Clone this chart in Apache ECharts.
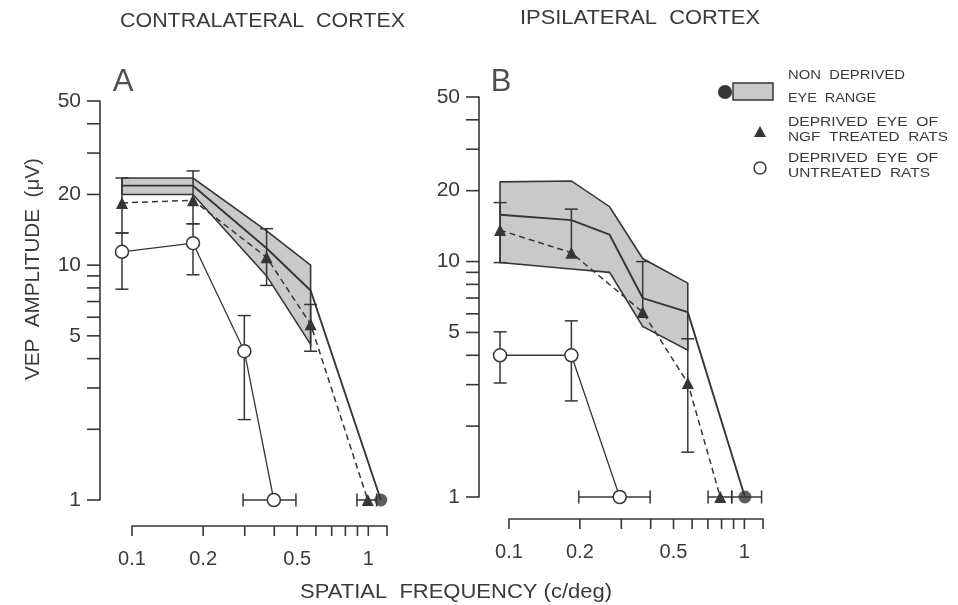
<!DOCTYPE html>
<html><head><meta charset="utf-8">
<script src="https://cdn.jsdelivr.net/npm/echarts@6/dist/echarts.min.js"></script>
<style>html,body{margin:0;padding:0;background:#fff}#c{width:958px;height:605px}</style>
</head><body><div id="c"></div>
<script>
// ---------------- data ----------------
const yTicks = [1,2,3,4,5,6,7,8,9,10,20,30,40,50];
const yTickLabels = [1,5,10,20,50];
const xTicks = [0.1,0.2,0.3,0.4,0.5,0.6,0.7,0.8,0.9,1,1.2];
const xTickLabels = [0.1,0.2,0.5,1];

// Panel A - contralateral cortex
const bandAx     = [0.1, 0.2, 0.41, 0.63];
const bandAupper = [23.5, 23.5, 14.0, 10.0];
const bandAlower = [20.0, 20.0, 9.0, 4.6];
const meanAx = [0.1, 0.2, 0.41, 0.63, 1.25];
const meanAy = [21.8, 21.8, 11.8, 7.8, 1];
const ngfAx  = [0.1, 0.2, 0.41, 0.63, 1.1];
const ngfAy  = [18.4, 18.9, 10.8, 5.6, 1];
const ngfAlo = [13.7, 15.0, 8.2, 4.3, 1];
const ngfAhi = [23.5, 25.2, 14.3, 6.8, 1];
const untAx  = [0.1, 0.2, 0.33, 0.44];
const untAy  = [11.4, 12.4, 4.3, 1];
const untAlo = [7.9, 9.1, 2.2, 1];
const untAhi = [13.7, 15.0, 6.1, 1];
const ngfAcutRange = [0.99, 1.2];
const untAcutRange = [0.326, 0.546];

// Panel B - ipsilateral cortex
const bandBx     = [0.1, 0.2, 0.29, 0.40, 0.62];
const bandBupper = [21.8, 22.0, 17.1, 10.3, 8.1];
const bandBlower = [9.9, 9.3, 9.0, 5.3, 4.2];
const meanBx = [0.1, 0.2, 0.29, 0.40, 0.62, 1.08];
const meanBy = [15.8, 15.0, 13.0, 7.0, 6.1, 1];
const ngfBx  = [0.1, 0.2, 0.40, 0.62, 0.85];
const ngfBy  = [13.6, 10.9, 6.1, 3.05, 1];
const ngfBlo = [9.9, 10.9, 6.1, 1.55, 1];
const ngfBhi = [17.8, 16.7, 10.0, 4.7, 1];
const untBx  = [0.1, 0.2, 0.32];
const untBy  = [4.0, 4.0, 1];
const untBlo = [3.05, 2.56, 1];
const untBhi = [5.03, 5.6, 1];
const ngfBcutRange  = [0.755, 0.95];
const meanBcutRange = [0.95, 1.27];
const untBcutRange  = [0.215, 0.43];

// ---------------- styling ----------------
const INK = '#363636';
const TXT = '#3a3a3a';
const BAND = '#c9c9c9';
const FONT = '"Liberation Sans", Arial, sans-serif';

const zip = (xs, ys) => xs.map((x, i) => [x, ys[i]]);
const zip4 = (xs, ys, lo, hi) => xs.map((x, i) => [x, ys[i], lo[i], hi[i]]);

function seg(x1, y1, x2, y2, w) {
  return {type: 'line', shape: {x1, y1, x2, y2}, style: {stroke: INK, lineWidth: w || 1.5}};
}
function vErrRender(params, api) {
  const x = api.value(0), y = api.value(1), lo = api.value(2), hi = api.value(3);
  const c = api.coord([x, y]);
  const ch = [], w = 6.5;
  if (hi > y) { const p = api.coord([x, hi]); ch.push(seg(c[0], c[1], p[0], p[1]), seg(p[0]-w, p[1], p[0]+w, p[1])); }
  if (lo < y) { const p = api.coord([x, lo]); ch.push(seg(c[0], c[1], p[0], p[1]), seg(p[0]-w, p[1], p[0]+w, p[1])); }
  return {type: 'group', children: ch};
}
function hErrRender(params, api) {
  const a = api.coord([api.value(0), api.value(2)]), b = api.coord([api.value(1), api.value(2)]);
  const w = 6.5;
  return {type: 'group', children: [seg(a[0], a[1], b[0], b[1]), seg(a[0], a[1]-w, a[0], a[1]+w), seg(b[0], b[1]-w, b[0], b[1]+w)]};
}
function bandRender(xs, up, low) {
  return function (params, api) {
    const pts = xs.map((x, i) => api.coord([x, up[i]]));
    for (let i = xs.length - 1; i >= 0; i--) pts.push(api.coord([xs[i], low[i]]));
    return {type: 'polygon', shape: {points: pts}, style: {fill: BAND, stroke: INK, lineWidth: 1.6}};
  };
}
function yTickRender(params, api) {
  const v = api.value(1);
  const p = api.coord([api.value(0), v]);
  const x0 = params.coordSys.x;
  const ch = [seg(x0 - 13, p[1], x0, p[1], 1.6)];
  if (yTickLabels.includes(v)) {
    ch.push({type: 'text', x: x0 - 19, y: p[1], style: {text: String(v), font: '21px ' + FONT, fill: TXT,
      textAlign: 'right', align: 'right', textVerticalAlign: 'middle', verticalAlign: 'middle'}});
  }
  return {type: 'group', children: ch};
}
function xTickRender(params, api) {
  const v = api.value(0);
  const p = api.coord([v, 0]);
  const y0 = params.coordSys.y + params.coordSys.height;
  const ch = [seg(p[0], y0, p[0], y0 + 10, 1.6)];
  if (xTickLabels.includes(v)) {
    ch.push({type: 'text', x: p[0], y: y0 + 33, style: {text: String(v), font: '20px ' + FONT, fill: TXT,
      textAlign: 'center', align: 'center', textVerticalAlign: 'middle', verticalAlign: 'middle'}});
  }
  return {type: 'group', children: ch};
}

function panelSeries(xi, yi, axI, d) {
  const base = {xAxisIndex: xi, yAxisIndex: yi, animation: false, silent: true};
  return [
    Object.assign({type: 'custom', renderItem: bandRender(d.bx, d.bu, d.bl), data: [[d.bx[0], d.bu[0]]], z: 1}, base),
    Object.assign({type: 'custom', renderItem: yTickRender, data: yTicks.map(v => [0.1, v]), z: 2}, base),
    Object.assign({type: 'custom', renderItem: vErrRender, data: zip4(d.nx, d.ny, d.nlo, d.nhi), z: 3}, base),
    Object.assign({type: 'custom', renderItem: vErrRender, data: zip4(d.ux, d.uy, d.ulo, d.uhi), z: 3}, base),
    Object.assign({type: 'custom', renderItem: hErrRender, data: d.hbars, z: 3}, base),
    Object.assign({type: 'line', data: zip(d.mx, d.my), symbol: 'none', lineStyle: {color: INK, width: 1.9}, z: 4}, base),
    Object.assign({type: 'line', data: zip(d.nx, d.ny), symbol: 'triangle', symbolSize: 12, showAllSymbol: true,
      itemStyle: {color: INK}, lineStyle: {color: INK, width: 1.5, type: [6, 4]}, z: 5}, base),
    Object.assign({type: 'line', data: zip(d.ux, d.uy), symbol: 'circle', symbolSize: 13, showAllSymbol: true,
      itemStyle: {color: '#fff', borderColor: INK, borderWidth: 1.5}, lineStyle: {color: INK, width: 1.3}, z: 5}, base),
    Object.assign({type: 'scatter', data: [[d.mx[d.mx.length-1], d.my[d.my.length-1]]], symbol: 'circle', symbolSize: 13,
      itemStyle: {color: INK}, z: 6}, base),
    {type: 'custom', xAxisIndex: axI, yAxisIndex: axI, renderItem: xTickRender, data: xTicks.map(v => [v, 0]), z: 2, silent: true, animation: false}
  ];
}

const A = {bx: bandAx, bu: bandAupper, bl: bandAlower, mx: meanAx, my: meanAy,
  nx: ngfAx, ny: ngfAy, nlo: ngfAlo, nhi: ngfAhi, ux: untAx, uy: untAy, ulo: untAlo, uhi: untAhi,
  hbars: [[ngfAcutRange[0], ngfAcutRange[1], ngfAy[ngfAy.length-1]], [untAcutRange[0], untAcutRange[1], untAy[untAy.length-1]]]};
const B = {bx: bandBx, bu: bandBupper, bl: bandBlower, mx: meanBx, my: meanBy,
  nx: ngfBx, ny: ngfBy, nlo: ngfBlo, nhi: ngfBhi, ux: untBx, uy: untBy, ulo: untBlo, uhi: untBhi,
  hbars: [[ngfBcutRange[0], ngfBcutRange[1], ngfBy[ngfBy.length-1]], [meanBcutRange[0], meanBcutRange[1], meanBy[meanBy.length-1]],
          [untBcutRange[0], untBcutRange[1], untBy[untBy.length-1]]]};

// stretched text helper (fits the lettering width of the original)
const mctx = document.createElement('canvas').getContext('2d');
function stext(str, x, y, size, w, align, rotation) {
  const font = size + 'px ' + FONT;
  mctx.font = font;
  const nat = mctx.measureText(str).width;
  const el = {type: 'text', x, y, scaleX: w ? w / nat : 1, z: 10,
    style: {text: str, font, fill: TXT, textAlign: align || 'left', align: align || 'left',
      textVerticalAlign: 'middle', verticalAlign: 'middle'}};
  if (rotation) el.rotation = rotation;
  return el;
}

const hiddenLog = (gi, min, max) => ({gridIndex: gi, type: 'log', min, max, show: false});
const visLogY = gi => ({gridIndex: gi, type: 'log', min: 1, max: 50, axisLine: {show: true, lineStyle: {color: INK, width: 1.6}},
  axisTick: {show: false}, axisLabel: {show: false}, splitLine: {show: false}});
const visLogX = gi => ({gridIndex: gi, type: 'log', min: 0.1, max: 1.2, axisLine: {show: true, onZero: false, lineStyle: {color: INK, width: 1.6}},
  axisTick: {show: false}, axisLabel: {show: false}, splitLine: {show: false}});
const dummyY = gi => ({gridIndex: gi, type: 'value', min: 0, max: 1, show: false});

const option = {
  animation: false,
  backgroundColor: '#fff',
  grid: [
    {left: 100, top: 101, width: 300, height: 399},
    {left: 132, top: 525, width: 255, height: 1},
    {left: 479, top: 97, width: 321, height: 400},
    {left: 509, top: 518, width: 254, height: 1}
  ],
  xAxis: [hiddenLog(0, 0.0807, 1.507), visLogX(1), hiddenLog(2, 0.0815, 1.845), visLogX(3)],
  yAxis: [visLogY(0), dummyY(1), visLogY(2), dummyY(3)],
  series: [].concat(panelSeries(0, 0, 1, A), panelSeries(2, 2, 3, B)),
  graphic: {elements: [
    stext('CONTRALATERAL  CORTEX', 120, 21, 20, 285),
    stext('IPSILATERAL  CORTEX', 520, 18, 20, 240),
    stext('VEP  AMPLITUDE  (\u03bcV)', 33, 269, 20, 222, 'center', Math.PI / 2),
    stext('SPATIAL  FREQUENCY (c/deg)', 300, 592, 20, 312),
    {type: 'text', x: 123, y: 82, z: 10, style: {text: 'A', font: '31px ' + FONT, fill: '#505050', textAlign: 'center', align: 'center', textVerticalAlign: 'middle', verticalAlign: 'middle'}},
    {type: 'text', x: 501, y: 82, z: 10, style: {text: 'B', font: '31px ' + FONT, fill: '#505050', textAlign: 'center', align: 'center', textVerticalAlign: 'middle', verticalAlign: 'middle'}},
    // legend
    {type: 'circle', shape: {cx: 725, cy: 92, r: 7}, style: {fill: INK}, z: 10},
    {type: 'rect', shape: {x: 733, y: 83, width: 40, height: 17}, style: {fill: BAND, stroke: INK, lineWidth: 1.5}, z: 10},
    {type: 'polygon', shape: {points: [[760, 126], [754, 137], [766, 137]]}, style: {fill: INK}, z: 10},
    {type: 'circle', shape: {cx: 760, cy: 168, r: 6}, style: {fill: '#fff', stroke: INK, lineWidth: 1.5}, z: 10},
    stext('NON  DEPRIVED', 788, 75, 13, 117),
    stext('EYE  RANGE', 788, 98, 13, 88),
    stext('DEPRIVED  EYE  OF', 788, 122, 13, 150),
    stext('NGF  TREATED  RATS', 788, 137, 13, 160),
    stext('DEPRIVED  EYE  OF', 788, 158, 13, 150),
    stext('UNTREATED  RATS', 788, 173, 13, 142)
  ]}
};
echarts.init(document.getElementById('c'), null, {renderer: 'canvas'}).setOption(option);
</script>
</body></html>
